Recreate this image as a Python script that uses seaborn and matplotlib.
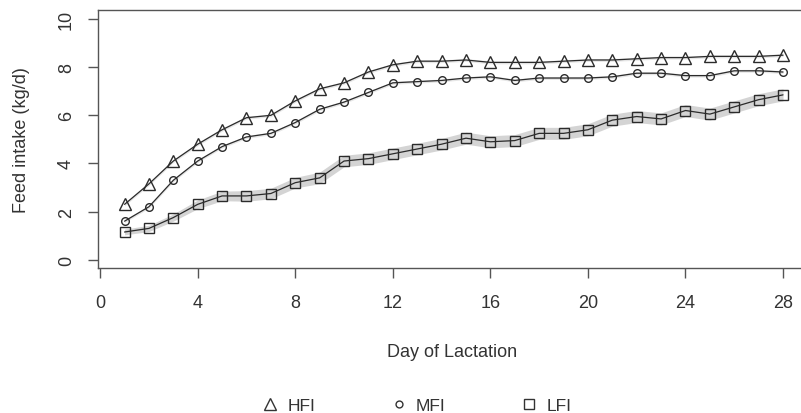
import numpy as np
import pandas as pd
import matplotlib
matplotlib.use("Agg")
import matplotlib.pyplot as plt
import seaborn as sns

# 泌乳日と採食量
days = list(range(1, 29))
hfi = [2.3, 3.15, 4.1, 4.8, 5.4, 5.9, 6.0, 6.6, 7.1, 7.35, 7.8, 8.1, 8.25, 8.25,
       8.3, 8.2, 8.2, 8.2, 8.25, 8.3, 8.3, 8.35, 8.4, 8.4, 8.45, 8.45, 8.45, 8.5]
mfi = [1.6, 2.2, 3.3, 4.1, 4.7, 5.1, 5.25, 5.7, 6.25, 6.55, 6.95, 7.35, 7.4, 7.45,
       7.55, 7.6, 7.45, 7.55, 7.55, 7.55, 7.6, 7.75, 7.75, 7.65, 7.65, 7.85, 7.85, 7.8]
lfi = [1.15, 1.3, 1.75, 2.3, 2.65, 2.65, 2.75, 3.2, 3.4, 4.1, 4.2, 4.4, 4.6, 4.8,
       5.05, 4.9, 4.95, 5.25, 5.25, 5.4, 5.8, 5.95, 5.85, 6.2, 6.05, 6.35, 6.65, 6.85]
# 灰色の帯（標準誤差の目安）
hfi_se = [0.06] * 28
mfi_se = [0.06] * 28
lfi_se = [0.12, 0.13, 0.15, 0.18, 0.2, 0.22, 0.22, 0.22, 0.24, 0.24, 0.24, 0.24, 0.24, 0.24,
          0.25, 0.25, 0.25, 0.25, 0.25, 0.25, 0.25, 0.25, 0.25, 0.25, 0.25, 0.25, 0.25, 0.25]

groups = ["HFI", "MFI", "LFI"]
x_ticks = [0, 4, 8, 12, 16, 20, 24, 28]
y_ticks = [0, 2, 4, 6, 8, 10]

df = pd.DataFrame({
    "day": days * 3,
    "intake": hfi + mfi + lfi,
    "se": hfi_se + mfi_se + lfi_se,
    "group": ["HFI"] * 28 + ["MFI"] * 28 + ["LFI"] * 28,
})

sns.set_style("white")
plt.rcParams["font.family"] = ["Liberation Sans", "DejaVu Sans"]

fig = plt.figure(figsize=(8.01, 4.14), dpi=100)
ax = fig.add_axes([0.122, 0.350, 0.886, 0.623])

markers = {"HFI": "^", "MFI": "o", "LFI": "s"}
msizes = {"HFI": 9, "MFI": 5.5, "LFI": 7.5}
band_col = {"HFI": "#e6e6e6", "MFI": "#e6e6e6", "LFI": "#d4d4d4"}
handles = []
for g in groups:
    sub = df[df["group"] == g]
    ax.fill_between(sub["day"], sub["intake"] - sub["se"], sub["intake"] + sub["se"],
                    color=band_col[g], lw=0, zorder=1)
    sns.lineplot(data=sub, x="day", y="intake", ax=ax, color="#2b2b2b", lw=0.9,
                 marker=markers[g], markersize=msizes[g], markerfacecolor="none",
                 markeredgecolor="#2b2b2b", markeredgewidth=1.0, zorder=3)
    handles.append(plt.Line2D([], [], ls="none", marker=markers[g], markersize=msizes[g] * 0.9,
                              markerfacecolor="none", markeredgecolor="#333333",
                              markeredgewidth=1.0, label=g))

ax.set_xlim(-0.1, 29.0)
ax.set_ylim(-0.35, 10.37)
ax.set_xticks(x_ticks)
ax.set_yticks(y_ticks)
for s in ax.spines.values():
    s.set_color("#555555")
    s.set_linewidth(1.0)
ax.tick_params(axis="both", direction="out", length=7.5, width=1.0, color="#555555",
               labelsize=13, labelcolor="#333333", bottom=True, left=True)
ax.tick_params(axis="x", pad=11)
ax.tick_params(axis="y", pad=9)
plt.setp(ax.get_yticklabels(), rotation=90, va="center")

ax.set_xlabel("Day of Lactation", fontsize=13, color="#333333", va="center")
ax.set_ylabel("Feed intake (kg/d)", fontsize=13, color="#333333", va="center")
ax.xaxis.set_label_coords(0.499, -0.322)
ax.yaxis.set_label_coords(-0.107, 0.5)

fig.legend(handles=handles, loc="center", bbox_to_anchor=(0.52, 0.019), ncol=3,
           frameon=False, fontsize=12.5, handlelength=1.0, handletextpad=0.5,
           columnspacing=4.3, labelcolor="#333333")

fig.savefig("out.png", dpi=100)
